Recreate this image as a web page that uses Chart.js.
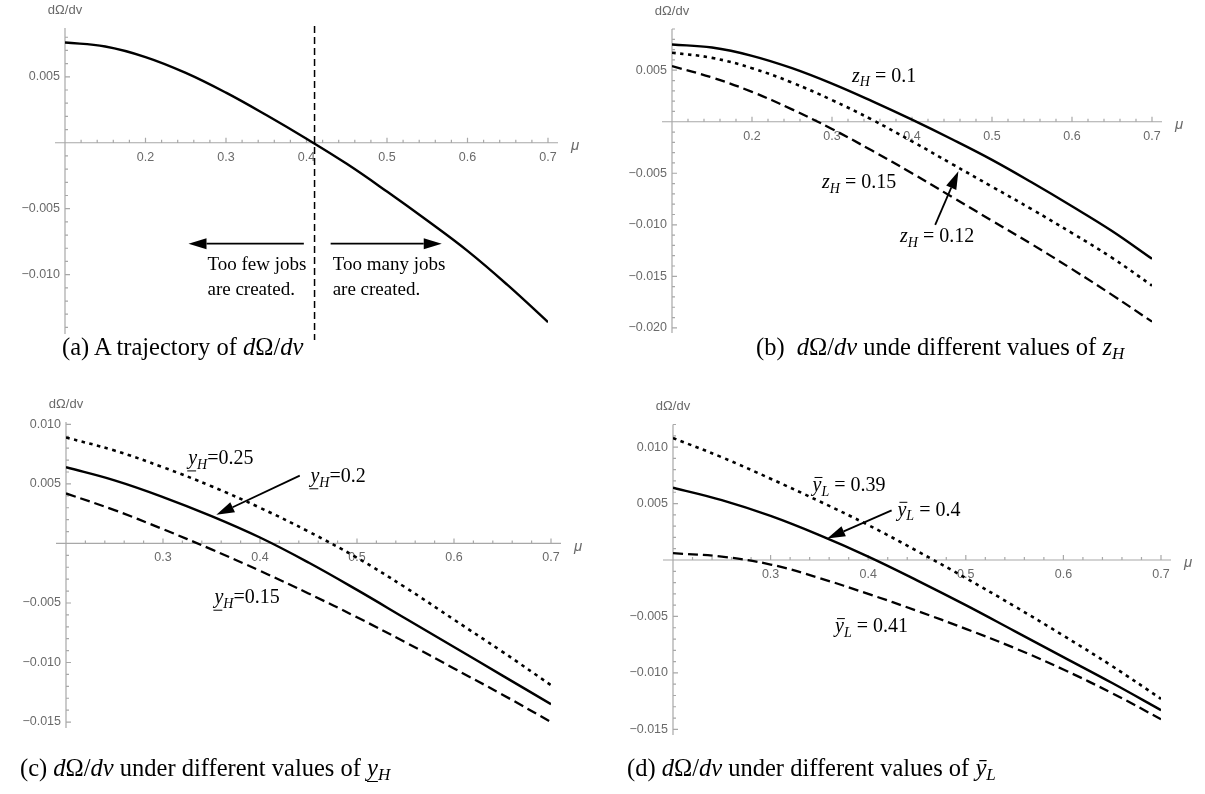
<!DOCTYPE html>
<html>
<head>
<meta charset="utf-8">
<script src="https://cdn.jsdelivr.net/npm/chart.js@4.4.0/dist/chart.umd.min.js"></script>
<style>
body { margin: 0; background: #fff; width: 1205px; height: 794px; position: relative; overflow: hidden; }
canvas { position: absolute; }
.cap { position: absolute; font-family: 'Liberation Serif', serif; font-size: 24.5px; line-height: 1; white-space: nowrap; color: #000; }
.cap sub { font-size: 17px; vertical-align: -4px; line-height: 0; }
.ul { text-decoration: underline; text-underline-offset: 5px; text-decoration-thickness: 1px; }
</style>
</head>
<body>
<canvas id="chartA" width="600" height="350" style="left:0;top:0"></canvas>
<canvas id="chartB" width="605" height="350" style="left:600px;top:0"></canvas>
<canvas id="chartC" width="600" height="409" style="left:0;top:385px"></canvas>
<canvas id="chartD" width="605" height="409" style="left:600px;top:385px"></canvas>

<div class="cap" style="left:62px;top:335px">(a) A trajectory of <i>d</i>Ω/<i>dv</i></div>
<div class="cap" style="left:756px;top:335px">(b)&nbsp; <i>d</i>Ω/<i>dv</i> unde different values of <i>z</i><sub><i>H</i></sub></div>
<div class="cap" style="left:20px;top:756px">(c) <i>d</i>Ω/<i>dv</i> under different values of <i class="ul">y</i><sub><i>H</i></sub></div>
<div class="cap" style="left:627px;top:756px">(d) <i>d</i>Ω/<i>dv</i> under different values of <i>ȳ</i><sub><i>L</i></sub></div>

<script>
// values
var muA = [0.1, 0.15, 0.2, 0.25, 0.3, 0.35, 0.4, 0.45, 0.5, 0.55, 0.6, 0.65, 0.7]
var trajA = [0.0076, 0.0073, 0.0065, 0.0053, 0.0038, 0.0021, 0.0003, -0.0016, -0.0037, -0.0059, -0.0082, -0.0108, -0.0136]

var zH010 = [0.0075, 0.0072, 0.0064, 0.0052, 0.0037, 0.0020, 0.0002, -0.0017, -0.0037, -0.0059, -0.0082, -0.0106, -0.0133]
var zH012 = [0.0067, 0.0062, 0.0052, 0.0038, 0.0021, 0.0002, -0.0019, -0.0041, -0.0063, -0.0085, -0.0108, -0.0132, -0.0159]
var zH015 = [0.0054, 0.0043, 0.0029, 0.0012, -0.0007, -0.0028, -0.0050, -0.0073, -0.0096, -0.0119, -0.0143, -0.0168, -0.0194]

var muC = [0.2, 0.25, 0.3, 0.35, 0.4, 0.45, 0.5, 0.55, 0.6, 0.65, 0.7]
var yH025 = [0.0089, 0.0078, 0.0064, 0.0048, 0.0030, 0.0010, -0.0012, -0.0037, -0.0064, -0.0091, -0.0119]
var yH020 = [0.0064, 0.0053, 0.0039, 0.0023, 0.0005, -0.0016, -0.0039, -0.0063, -0.0087, -0.0111, -0.0135]
var yH015 = [0.0042, 0.0028, 0.0012, -0.0005, -0.0023, -0.0042, -0.0062, -0.0083, -0.0105, -0.0127, -0.0150]

var yL039 = [0.0108, 0.0091, 0.0072, 0.0052, 0.0031, 0.0008, -0.0016, -0.0041, -0.0067, -0.0094, -0.0123]
var yL040 = [0.0064, 0.0053, 0.0039, 0.0022, 0.0003, -0.0018, -0.0040, -0.0063, -0.0086, -0.0109, -0.0133]
var yL041 = [0.0006, 0.0003, -0.0004, -0.0016, -0.0030, -0.0045, -0.0061, -0.0078, -0.0097, -0.0118, -0.0141]

var xTicksAB = [0.2, 0.3, 0.4, 0.5, 0.6, 0.7]
var xTicksCD = [0.3, 0.4, 0.5, 0.6, 0.7]
var yTicksA = [0.005, -0.005, -0.010]
var yTicksB = [0.005, -0.005, -0.010, -0.015, -0.020]
var yTicksCD = [0.010, 0.005, -0.005, -0.010, -0.015]

var GRAY = '#6a6a6a'
var AXIS = '#a8a8a8'
var SOLID = { width: 2.4, dash: [] }
var DOTTED = { width: 2.6, dash: [3.5, 4.5] }
var DASHED = { width: 2.3, dash: [10, 5] }

Chart.defaults.font.family = "'Liberation Sans', Arial, sans-serif"

const arrow = (ctx, x1, y1, x2, y2) => {
    const a = Math.atan2(y2 - y1, x2 - x1), len = 18, hw = 5.5
    const bx = x2 - len * Math.cos(a), by = y2 - len * Math.sin(a)
    ctx.beginPath()
    ctx.moveTo(x1, y1)
    ctx.lineTo(bx, by)
    ctx.stroke()
    ctx.beginPath()
    ctx.moveTo(x2, y2)
    ctx.lineTo(bx + hw * Math.sin(a), by - hw * Math.cos(a))
    ctx.lineTo(bx - hw * Math.sin(a), by + hw * Math.cos(a))
    ctx.closePath()
    ctx.fill()
}

const mathText = (ctx, x, y, parts, size) => {
    let cx = x
    parts.forEach(([t, k]) => {
        const sub = k === 'sub'
        const fs = sub ? size * 0.7 : size
        ctx.font = (k === 'r' ? '' : 'italic ') + fs + "px 'Liberation Serif'"
        const dy = sub ? size * 0.32 : 0
        ctx.fillText(t, cx, y + dy)
        const w = ctx.measureText(t).width
        ctx.lineWidth = 1
        if (k === 'bar') {
            ctx.beginPath(); ctx.moveTo(cx + 2, y - size * 0.4); ctx.lineTo(cx + w + 1, y - size * 0.4); ctx.stroke()
        }
        if (k === 'ul') {
            ctx.beginPath(); ctx.moveTo(cx - 1, y + size * 0.6); ctx.lineTo(cx + w - 1, y + size * 0.6); ctx.stroke()
        }
        cx += w
    })
}

const decor = {
    id: 'decor',
    beforeDatasetsDraw(chart, args, o) {
        const ctx = chart.ctx, xs = chart.scales.x, ys = chart.scales.y
        const x0 = xs.getPixelForValue(xs.min), y0 = ys.getPixelForValue(0)
        ctx.save()
        ctx.strokeStyle = AXIS
        ctx.lineWidth = 1.2
        ctx.beginPath()
        ctx.moveTo(x0 - 10, y0); ctx.lineTo(xs.right + 10, y0)
        ctx.moveTo(x0, ys.top); ctx.lineTo(x0, ys.bottom)
        // minor and major ticks, pointing into the plot
        const k0 = Math.round(xs.min / 0.02), k1 = Math.round(xs.max / 0.02)
        for (let k = k0 + 1; k <= k1; k++) {
            const px = xs.getPixelForValue(k * 0.02)
            ctx.moveTo(px, y0); ctx.lineTo(px, y0 - (k % 5 === 0 ? 5 : 3))
        }
        const j0 = Math.ceil(ys.min / 0.001), j1 = Math.floor(ys.max / 0.001)
        for (let j = j0; j <= j1; j++) {
            if (j === 0) continue
            const py = ys.getPixelForValue(j * 0.001)
            ctx.moveTo(x0, py); ctx.lineTo(x0 + (j % 5 === 0 ? 5 : 3), py)
        }
        ctx.stroke()
        ctx.fillStyle = GRAY
        ctx.font = "13px 'Liberation Sans'"
        ctx.textAlign = 'center'
        ctx.textBaseline = 'middle'
        ctx.fillText('dΩ/dv', x0, ys.top - 18)
        ctx.font = "italic 15px 'Liberation Sans'"
        ctx.fillText('μ', xs.right + 27, y0 + 3)
        ctx.restore()
    },
    afterDatasetsDraw(chart, args, o) {
        const ctx = chart.ctx, xs = chart.scales.x, ys = chart.scales.y
        const px = v => xs.getPixelForValue(v), py = v => ys.getPixelForValue(v)
        ctx.save()
        ctx.strokeStyle = '#000'
        ctx.fillStyle = '#000'
        ctx.textAlign = 'left'
        ctx.textBaseline = 'middle'
        ;(o.items || []).forEach(it => {
            if (it.vline !== undefined) {
                ctx.lineWidth = 1.5
                ctx.setLineDash([7, 4])
                ctx.beginPath()
                ctx.moveTo(px(it.vline), ys.top - 2)
                ctx.lineTo(px(it.vline), ys.bottom + 6)
                ctx.stroke()
                ctx.setLineDash([])
            } else if (it.from) {
                ctx.lineWidth = 1.8
                arrow(ctx, px(it.from[0]), py(it.from[1]), px(it.to[0]), py(it.to[1]))
            } else if (it.text) {
                ctx.font = "19px 'Liberation Serif'"
                ctx.fillText(it.text, px(it.at[0]), py(it.at[1]))
            } else if (it.math) {
                mathText(ctx, px(it.at[0]), py(it.at[1]), it.math, 20)
            }
        })
        ctx.restore()
    }
}

const fmtY = v => (v < 0 ? '\u2212' : '') + Math.abs(v).toFixed(3)

// p.axisW is the width given to the y axis (its labels sit inside it)
const panel = (id, p) => new Chart(document.getElementById(id), {
    type: 'line',
    data: {
        datasets: p.series.map(s => ({
            data: p.mu.map((m, i) => ({ x: m, y: s.values[i] })),
            borderColor: '#000',
            borderWidth: s.style.width,
            borderDash: s.style.dash,
            borderCapStyle: 'butt',
            pointRadius: 0,
            tension: 0.4,
            fill: false
        }))
    },
    options: {
        responsive: false,
        animation: false,
        layout: { padding: { left: p.left - p.axisW, top: p.top, right: p.right, bottom: p.bottom } },
        plugins: { legend: { display: false }, tooltip: { enabled: false }, decor: { items: p.items } },
        scales: {
            x: {
                type: 'linear', position: { y: 0 }, min: p.mu[0], max: 0.7,
                afterBuildTicks: s => { s.ticks = p.xTicks.map(v => ({ value: v })) },
                grid: { display: false, drawTicks: false }, border: { display: false },
                ticks: { padding: 7, color: GRAY, font: { size: 12.5 }, maxRotation: 0, autoSkip: false, callback: v => v.toFixed(1) }
            },
            y: {
                type: 'linear', min: p.yMin, max: p.yMax,
                afterBuildTicks: s => { s.ticks = p.yTicks.map(v => ({ value: v })) },
                afterFit: s => { s.width = p.axisW },
                grid: { display: false, drawTicks: false }, border: { display: false },
                ticks: { padding: 5, color: GRAY, font: { size: 12.5 }, autoSkip: false, callback: fmtY }
            }
        }
    },
    plugins: [decor]
})

panel('chartA', {
    mu: muA, xTicks: xTicksAB, yTicks: yTicksA, yMin: -0.0145, yMax: 0.0087,
    left: 65, axisW: 60, top: 28, right: 52, bottom: 16,
    series: [{ values: trajA, style: SOLID }],
    items: [
        { vline: 0.41 },
        { from: [0.3967, -0.00765], to: [0.2534, -0.00765] },
        { from: [0.430, -0.00765], to: [0.568, -0.00765] },
        { text: 'Too few jobs', at: [0.277, -0.0093] },
        { text: 'are created.', at: [0.277, -0.01114] },
        { text: 'Too many jobs', at: [0.4325, -0.0093] },
        { text: 'are created.', at: [0.4325, -0.01114] }
    ]
})

panel('chartB', {
    mu: muA, xTicks: xTicksAB, yTicks: yTicksB, yMin: -0.0205, yMax: 0.009,
    left: 72, axisW: 62, top: 29, right: 53, bottom: 17,
    series: [{ values: zH010, style: SOLID }, { values: zH012, style: DOTTED }, { values: zH015, style: DASHED }],
    items: [
        { math: [['z', 'i'], ['H', 'sub'], [' = 0.1', 'r']], at: [0.325, 0.0044] },
        { math: [['z', 'i'], ['H', 'sub'], [' = 0.15', 'r']], at: [0.2875, -0.0059] },
        { math: [['z', 'i'], ['H', 'sub'], [' = 0.12', 'r']], at: [0.385, -0.0112] },
        { from: [0.429, -0.0100], to: [0.458, -0.0048] }
    ]
})

panel('chartC', {
    mu: muC, xTicks: xTicksCD, yTicks: yTicksCD, yMin: -0.0155, yMax: 0.0102,
    left: 66, axisW: 60, top: 37, right: 49, bottom: 66,
    series: [{ values: yH025, style: DOTTED }, { values: yH020, style: SOLID }, { values: yH015, style: DASHED }],
    items: [
        { math: [['y', 'ul'], ['H', 'sub'], ['=0.25', 'r']], at: [0.326, 0.0071] },
        { math: [['y', 'ul'], ['H', 'sub'], ['=0.2', 'r']], at: [0.452, 0.0056] },
        { math: [['y', 'ul'], ['H', 'sub'], ['=0.15', 'r']], at: [0.353, -0.0046] },
        { from: [0.441, 0.0057], to: [0.355, 0.0024] }
    ]
})

panel('chartD', {
    mu: muC, xTicks: xTicksCD, yTicks: yTicksCD, yMin: -0.0155, yMax: 0.012,
    left: 73, axisW: 63, top: 39.5, right: 44, bottom: 59,
    series: [{ values: yL039, style: DOTTED }, { values: yL040, style: SOLID }, { values: yL041, style: DASHED }],
    items: [
        { math: [['y', 'bar'], ['L', 'sub'], [' = 0.39', 'r']], at: [0.343, 0.0066] },
        { math: [['y', 'bar'], ['L', 'sub'], [' = 0.4', 'r']], at: [0.430, 0.0044] },
        { math: [['y', 'bar'], ['L', 'sub'], [' = 0.41', 'r']], at: [0.366, -0.0059] },
        { from: [0.424, 0.0044], to: [0.358, 0.0019] }
    ]
})
</script>
</body>
</html>
